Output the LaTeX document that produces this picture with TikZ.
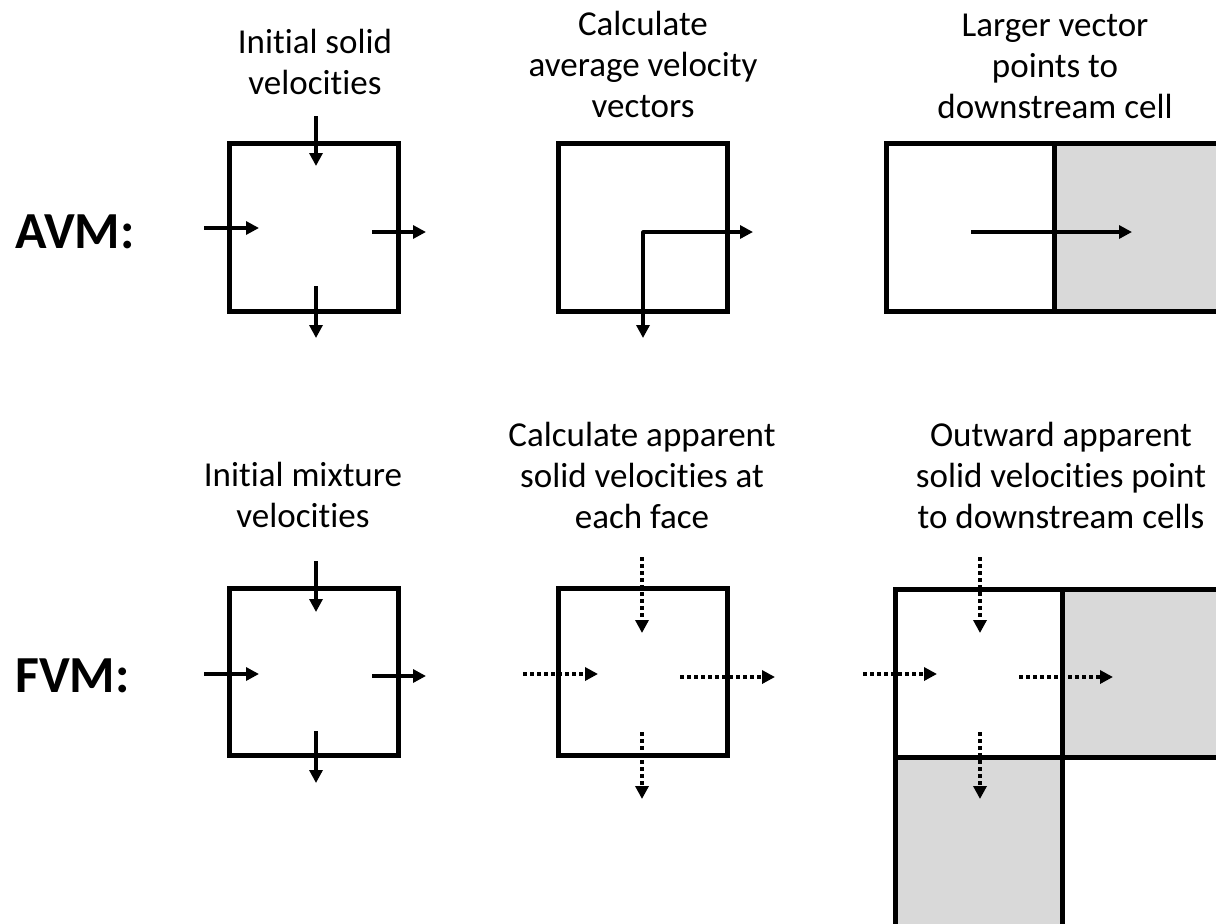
\documentclass[tikz,border=0pt]{standalone}
\usepackage{fontspec}
\setmainfont{Carlito}[Ligatures=NoCommon,Contextuals=NoAlternate]
\usetikzlibrary{arrows.meta}
\definecolor{cellgray}{RGB}{217,217,217}
\begin{document}
\begin{tikzpicture}[x=1pt,y=-1pt,
  cell/.style={line width=5pt,line join=miter},
  tip/.style={-{Triangle[length=13pt,width=13pt]}},
  vec/.style={line width=3.2pt,tip},
  dvec/.style={line width=3.6pt,dash pattern=on 4pt off 3pt,tip},
  lbl/.style={font=\fontsize{35}{41}\selectfont,align=center,inner sep=0pt},
  head/.style={font=\fontsize{52}{60}\selectfont\bfseries,inner sep=0pt}]
\useasboundingbox (0,0) rectangle (1216,924);
\clip (0,0) rectangle (1216,924);
% labels (base anchor = baseline of last line)
\node[lbl,anchor=base] (la1) at (315,94) {Initial solid\\velocities};
\node[lbl,anchor=base] (la2) at (643,117) {Calculate\\average velocity\\vectors};
\node[lbl,anchor=base] (la3) at (1055,118) {Larger vector\\points to\\downstream cell};
\node[lbl,anchor=base] (lf1) at (303,527) {Initial mixture\\velocities};
\node[lbl,anchor=base] (lf2) at (642,528) {Calculate apparent\\solid velocities at\\each face};
\node[lbl,anchor=base] (lf3) at (1061,528) {Outward apparent\\solid velocities point\\to downstream cells};
\node[head,anchor=west] (avm) at (15,232) {AVM:};
\node[head,anchor=west] (fvm) at (15,676) {FVM:};
% AVM cell 1
\draw[cell] (229.5,143.5) rectangle (398.5,311.5);
\draw[vec] (316,116) -- (316,166);
\draw[vec] (204,228) -- (259,228);
\draw[vec] (372,232) -- (426,232);
\draw[vec] (316,286) -- (316,338);
% AVM cell 2
\draw[cell] (558.5,143.5) rectangle (727.5,311.5);
\draw[line width=3.2pt,line join=round,{Triangle[length=13pt,width=13pt]}-{Triangle[length=13pt,width=13pt]}] (643,338) -- (643,232) -- (753,232);
% AVM cell 3
\fill[cellgray] (1054,143.5) rectangle (1230,311.5);
\draw[cell] (1230,143.5) -- (886.5,143.5) -- (886.5,311.5) -- (1230,311.5);
\draw[cell] (1054,143.5) -- (1054,311.5);
\draw[vec] (971,232) -- (1132,232);
% FVM cell 1
\draw[cell] (229.5,588.5) rectangle (398.5,755.5);
\draw[vec] (316,561) -- (316,612);
\draw[vec] (204,674) -- (259,674);
\draw[vec] (372,676) -- (426,676);
\draw[vec] (316,731) -- (316,783);
% FVM cell 2
\draw[cell] (558.5,588.5) rectangle (727.5,755.5);
\draw[dvec] (642,557) -- (642,633);
\draw[dvec] (523,674) -- (598,674);
\draw[dvec] (680,677) -- (775,677);
\draw[dvec] (642,732) -- (642,799);
% FVM cell 3
\fill[cellgray] (1062,589) rectangle (1230,757);
\fill[cellgray] (895.5,757) rectangle (1062,930);
\draw[cell] (1230,589) -- (895.5,589) -- (895.5,930);
\draw[cell] (1062,589) -- (1062,930);
\draw[cell] (895.5,757) -- (1230,757);
\draw[dvec] (980,557) -- (980,633);
\draw[dvec] (863,674) -- (937,674);
\draw[dvec] (1019,677) -- (1113,677);
\draw[dvec] (980,732) -- (980,799);
\end{tikzpicture}
\end{document}
